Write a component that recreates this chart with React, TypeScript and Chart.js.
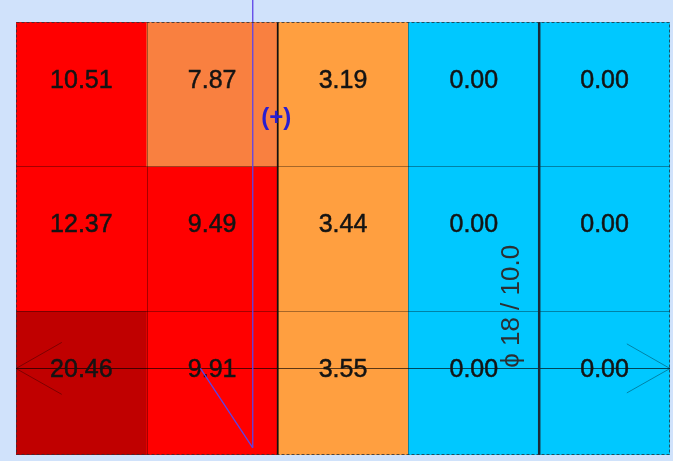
import { useEffect, useRef } from 'react';
import { Chart, registerables } from 'chart.js';

Chart.register(...registerables);

// ---- data ----
const columns = ['C1', 'C2', 'C3', 'C4', 'C5'];
const rowNames = ['Row 1', 'Row 2', 'Row 3'];
const row1 = [10.51, 7.87, 3.19, 0.0, 0.0];
const row2 = [12.37, 9.49, 3.44, 0.0, 0.0];
const row3 = [20.46, 9.91, 3.55, 0.0, 0.0];
const rowValues = [row1, row2, row3];

// colour classes (upper bounds) and colours
const colorBreaks = [1, 5, 9, 15];
const colorSteps = ['#00C8FF', '#FF9F40', '#F98040', '#FF0000', '#C00000'];

// annotation geometry in data units (x: columns 0..5, y: rows 0..3 from top)
const sectionLineY = 2.4;
const bearingLines = [2, 4]; // black vertical lines (column boundaries)
const blueLineX = 1.81;
const blueDiagonal = [
  { x: 1.41, y: 2.4 },
  { x: 1.81, y: 2.95 },
];
const plusLabel = { text: '(+)', x: 1.99, y: 0.665 };
const rebarLabel = { text: 'ϕ 18 / 10.0', x: 3.79, y: 1.97 };
const textRowOffset = 0.41;

function colorFor(v: number): string {
  for (let i = 0; i < colorBreaks.length; i++) {
    if (v < colorBreaks[i]) return colorSteps[i];
  }
  return colorSteps[colorSteps.length - 1];
}

const overlayPlugin = {
  id: 'overlay',
  beforeDraw(chart: any) {
    const { ctx, width, height } = chart;
    ctx.save();
    ctx.fillStyle = '#D0E2FB';
    ctx.fillRect(0, 0, width, height);
    ctx.restore();
  },
  afterDatasetsDraw(chart: any) {
    const { ctx, chartArea } = chart;
    const xs = chart.scales.x;
    const ys = chart.scales.y;
    const px = (v: number) => xs.getPixelForValue(v);
    const py = (v: number) => ys.getPixelForValue(v);
    ctx.save();

    // thin cell borders
    ctx.strokeStyle = 'rgba(0,0,0,0.35)';
    ctx.lineWidth = 1;
    for (let c = 1; c < columns.length; c++) {
      ctx.beginPath();
      ctx.moveTo(Math.round(px(c)) + 0.5, chartArea.top);
      ctx.lineTo(Math.round(px(c)) + 0.5, chartArea.bottom);
      ctx.stroke();
    }
    for (let r = 1; r < rowNames.length; r++) {
      ctx.beginPath();
      ctx.moveTo(chartArea.left, Math.round(py(r)) + 0.5);
      ctx.lineTo(chartArea.right, Math.round(py(r)) + 0.5);
      ctx.stroke();
    }

    // section line with arrows
    const yl = Math.round(py(sectionLineY)) + 0.5;
    ctx.strokeStyle = 'rgba(0,0,0,0.65)';
    ctx.beginPath();
    ctx.moveTo(px(0), yl);
    ctx.lineTo(px(5), yl);
    ctx.stroke();
    ctx.strokeStyle = 'rgba(0,0,0,0.35)';
    ctx.beginPath();
    ctx.moveTo(px(0.35), py(sectionLineY - 0.18));
    ctx.lineTo(px(0), yl);
    ctx.lineTo(px(0.35), py(sectionLineY + 0.18));
    ctx.moveTo(px(4.67), py(sectionLineY - 0.17));
    ctx.lineTo(px(5), yl);
    ctx.lineTo(px(4.67), py(sectionLineY + 0.17));
    ctx.stroke();

    // bearing lines
    bearingLines.forEach((b, i) => {
      ctx.strokeStyle = i === 0 ? '#111' : '#1b2a38';
      ctx.lineWidth = i === 0 ? 1.5 : 2.5;
      ctx.beginPath();
      ctx.moveTo(px(b), chartArea.top);
      ctx.lineTo(px(b), chartArea.bottom);
      ctx.stroke();
    });

    // values
    ctx.fillStyle = '#141414';
    ctx.strokeStyle = '#141414';
    ctx.lineWidth = 0.5;
    ctx.font = '25px "Liberation Sans", Arial, sans-serif';
    ctx.textAlign = 'center';
    ctx.textBaseline = 'middle';
    rowValues.forEach((vals, r) => {
      vals.forEach((v, c) => {
        const t = v.toFixed(2);
        ctx.fillText(t, px(c + 0.5), py(r + textRowOffset));
        ctx.strokeText(t, px(c + 0.5), py(r + textRowOffset));
      });
    });

    // blue lines
    ctx.strokeStyle = '#5B44E8';
    ctx.lineWidth = 1.3;
    ctx.beginPath();
    ctx.moveTo(px(blueLineX), 0);
    ctx.lineTo(px(blueLineX), py(blueDiagonal[1].y));
    ctx.stroke();
    ctx.beginPath();
    ctx.moveTo(px(blueDiagonal[0].x), py(blueDiagonal[0].y));
    ctx.lineTo(px(blueDiagonal[1].x), py(blueDiagonal[1].y));
    ctx.stroke();

    // (+) label
    ctx.fillStyle = '#2A1ED0';
    ctx.font = 'bold 24px "Liberation Sans", Arial, sans-serif';
    ctx.fillText(plusLabel.text, px(plusLabel.x), py(plusLabel.y));

    // rebar label (rotated)
    ctx.save();
    ctx.translate(px(rebarLabel.x), py(rebarLabel.y));
    ctx.rotate(-Math.PI / 2);
    ctx.fillStyle = '#2b2f33';
    ctx.font = '26px "Liberation Sans", Arial, sans-serif';
    ctx.fillText(rebarLabel.text, 0, 0);
    ctx.restore();

    // dashed outline
    ctx.strokeStyle = 'rgba(40,50,60,0.8)';
    ctx.lineWidth = 1;
    ctx.setLineDash([3, 2]);
    ctx.strokeRect(
      Math.round(chartArea.left) + 0.5,
      Math.round(chartArea.top) + 0.5,
      Math.round(chartArea.right - chartArea.left) - 1,
      Math.round(chartArea.bottom - chartArea.top) - 1
    );
    ctx.restore();
  },
};

export default function App() {
  const ref = useRef<HTMLCanvasElement | null>(null);
  useEffect(() => {
    document.body.style.margin = '0';
    if (!ref.current) return;
    const datasets = rowValues.map((vals, r) => ({
      label: rowNames[r],
      data: vals.map((_, c) => ({ x: c + 0.5, y: [r, r + 1] })),
      backgroundColor: vals.map((v) => colorFor(v)),
      borderWidth: 0,
      barPercentage: 1,
      categoryPercentage: 1,
      grouped: false,
    }));
    const chart = new Chart(ref.current, {
      type: 'bar',
      data: { datasets: datasets as any },
      options: {
        animation: false,
        responsive: false,
        layout: { padding: { left: 16, top: 22, right: 3, bottom: 6 } },
        plugins: { legend: { display: false }, tooltip: { enabled: false } },
        scales: {
          x: { type: 'linear', min: 0, max: 5, offset: false, display: false, ticks: { stepSize: 1 } },
          y: { type: 'linear', min: 0, max: 3, reverse: true, display: false, ticks: { stepSize: 1 } },
        },
      },
      plugins: [overlayPlugin],
    });
    return () => chart.destroy();
  }, []);
  return (
    <div style={{ width: 673, height: 461 }}>
      <canvas ref={ref} width={673} height={461} style={{ display: 'block' }} />
    </div>
  );
}
